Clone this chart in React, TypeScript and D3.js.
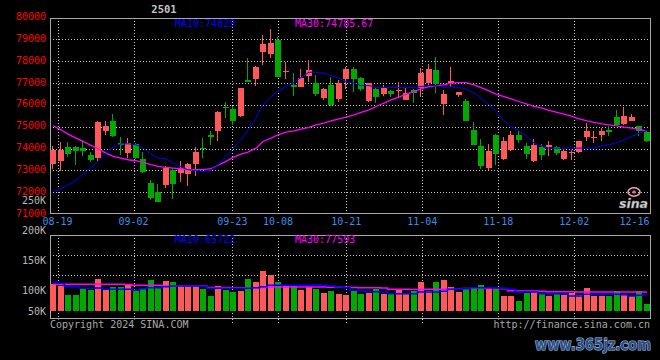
import React from "react";
import * as d3 from "d3";

const dates = [
  "08-16","08-19","08-20","08-21","08-22","08-23","08-26","08-27","08-28","08-29","08-30",
  "09-02","09-03","09-04","09-05","09-06","09-09","09-10","09-11","09-12","09-13","09-18","09-19","09-20","09-23","09-24","09-25","09-26","09-27","09-30",
  "10-08","10-09","10-10","10-11","10-14","10-15","10-16","10-17","10-18","10-21","10-22","10-23","10-24","10-25","10-28","10-29","10-30","10-31",
  "11-01","11-04","11-05","11-06","11-07","11-08","11-11","11-12","11-13","11-14","11-15","11-18","11-19","11-20","11-21","11-22","11-25","11-26","11-27","11-28","11-29",
  "12-02","12-03","12-04","12-05","12-06","12-09","12-10","12-11","12-12","12-13","12-16",
];

const opens = [
  73308,73414,74084,74084,74038,73719,73566,74815,75271,74267,
  73810,74221,73536,72440,72014,72318,73034,72882,72851,73308,
  74038,74632,74784,75910,75804,75469,77143,77189,78422,78330,
  78970,77493,76915,76839,77326,76991,76321,76915,76291,77189,
  77645,77250,76184,76732,76504,76641,76656,76230,76671,76763,
  76991,77600,76047,77021,76458,76184,74860,74130,73110,74632,
  73536,73947,74601,74099,73414,74069,74053,74053,73536,73779,
  73840,74510,74495,74632,74860,75454,75134,75241,75012,74754,
];
const highs = [
  74130,74282,74312,74100,74404,73825,75241,75271,75591,74540,
  74495,74267,73856,72577,72394,73186,73110,73414,73338,74053,
  74480,74784,75700,76123,75926,76780,78132,77770,79198,79472,
  79122,77980,77448,77645,78056,77371,76760,77295,77143,77752,
  77752,77295,77021,76793,76915,76671,77037,76793,76732,77706,
  77874,78193,76687,77737,76595,76260,75210,74434,74206,74662,
  74525,74784,74784,74251,74449,74206,74358,74130,73993,73947,
  74370,75165,74784,74937,75012,75773,75880,75591,75020,74860,
];
const lows = [
  73079,72958,73612,73232,73643,73369,73445,74632,74540,73719,
  73566,73536,72866,71634,71542,72197,71679,72471,72273,72729,
  73566,74175,74327,75393,75088,75450,77050,76884,77828,78132,
  77270,77189,76413,76830,77067,76413,76200,75971,76123,76732,
  76610,76641,76123,76108,76428,76337,76337,76200,76108,76337,
  76884,76565,75515,76839,76337,75241,74160,73079,73034,73262,
  73490,73901,74251,73536,73400,73490,73643,73688,73490,73460,
  73795,74327,74251,74327,74556,75058,75088,75241,74556,74310,
];
const closes = [
  73947,73947,73764,73901,73901,73490,75195,75043,74586,74175,
  74251,73566,72912,71725,71542,73110,72394,73110,73308,73856,
  73977,74540,75682,75849,75271,76763,77067,77752,78787,78833,
  77280,77554,76839,77250,77600,76504,76732,76002,77021,77645,
  77189,76732,76991,76382,76763,76489,76687,76534,76534,77448,
  77645,76945,76504,77098,76580,75271,74175,73186,73901,73764,
  74358,74601,74404,73764,74145,73719,74175,73795,73871,73825,
  74358,74784,74540,74784,74738,75088,75499,75454,74784,74327,
];
const ma10 = [
  72044,72166,72349,72562,72836,73110,73414,73795,74069,74221,
  74221,74175,74023,73749,73566,73536,73338,73156,73034,72988,
  72958,73034,73232,73643,74023,74404,74860,75393,76002,76382,
  76641,76839,77037,77250,77493,77493,77448,77341,77219,77067,
  76991,76884,76884,76793,76793,76793,76793,76808,76793,76839,
  76884,76884,76793,76824,76793,76732,76534,76306,76002,75697,
  75271,75012,74815,74556,74251,74099,74023,74023,74023,74023,
  74023,74023,74023,74130,74175,74282,74404,74556,74708,74829,
];
const ma30 = [
  75043,74860,74663,74480,74327,74145,73993,73795,73643,73566,
  73490,73445,73369,73262,73186,73140,73110,73079,73034,73034,
  73034,73079,73232,73414,73597,73749,73840,74023,74327,74480,
  74632,74754,74815,74891,74967,75088,75165,75271,75362,75439,
  75545,75652,75773,75926,76078,76230,76352,76489,76610,76732,
  76839,76884,76915,76991,77021,77021,76915,76793,76641,76489,
  76382,76276,76154,76032,75926,75849,75743,75652,75576,75469,
  75362,75271,75195,75134,75088,75043,74982,74937,74891,74785.67,
];
const volumes = [
  108600,101800,65100,65100,92300,85500,131600,84100,97700,97700,
  105800,84100,88200,126200,97700,122100,118100,104500,101800,101800,
  90900,61100,101800,84100,77300,80100,131600,118100,162800,146600,
  118100,101800,104500,85500,99100,90900,74600,81400,70600,65100,
  84100,67900,74600,90900,70600,67900,85500,70600,81400,118100,
  81400,118100,126200,97700,77300,90900,95000,105800,95000,88200,
  61100,61100,40700,71900,78700,70600,61100,67900,67900,74600,
  65100,93600,61100,61100,61100,81400,70600,61100,81400,29900,
];
const volMa10 = [
  118100,112600,99100,97700,92300,92300,93600,88200,88200,88200,
  88200,84100,90900,95000,95000,99100,101800,101800,101800,101800,
  99100,92300,92300,92300,92300,92300,92300,95000,99100,104500,
  104500,104500,104500,104500,104500,107200,104500,101800,97700,95000,
  84100,80100,78700,78700,77300,70600,70600,70600,70600,77300,
  77300,77300,80100,88200,88200,90900,95000,95000,95000,93600,
  92300,88200,77300,77300,77300,70600,70600,70600,67900,61100,
  61100,67900,67900,67900,67900,67900,66500,61100,63800,65722,
];
const volMa30 = [
  109000,109000,109000,108500,108500,108500,108500,108500,108500,108500,
  108000,105000,105000,104500,104500,102000,102000,102000,101500,101500,
  101000,96000,95500,95500,95000,95000,95000,95000,96000,97700,
  98000,98000,98000,98000,97700,97500,97500,97000,97000,96500,
  95500,95000,95000,95000,94000,89000,88500,88500,88000,88000,
  88500,89000,89000,89000,89000,92000,92500,92500,92000,91500,
  91000,82000,81500,81000,81000,80500,78500,78500,78000,78000,
  77800,77500,77500,77500,77500,77500,77500,77600,77600,77593,
];
const priceTicks = [80000, 79000, 78000, 77000, 76000, 75000, 74000, 73000, 72000, 71000];
const priceGrid = [79000, 78000, 77000, 76000, 75000, 74000, 73000, 72000];
const volTicks = [250000, 200000, 150000, 100000, 50000];
const volTickLabels = ["250K", "200K", "150K", "100K", "50K"];
const dateTicks = ["08-19", "09-02", "09-23", "10-08", "10-21", "11-04", "11-18", "12-02", "12-16"];

const W = 660;
const H = 360;
const RED = "#ff5858";
const GREEN = "#00a800";
const BLUE = "#0000ff";
const MAG = "#ff00ff";
const GRID = "#c8c8c8";
const FRAME = "#a8a8a8";
const MONO = "'DejaVu Sans Mono', 'Liberation Mono', monospace";

export default function App() {
  const n = dates.length;
  const xBand = d3.scaleBand<number>().domain(d3.range(n)).range([49, 650.3]);
  const gridX = d3.scaleLinear().domain([0, n - 1]).range([50, 650.3]);
  const yPrice = d3.scaleLinear().domain([71000, 80000]).range([214.2, 17.4]);
  const yVol = d3.scaleLinear().domain([0, 309300]).range([311, 235]);
  const yVolLabel = d3.scaleLinear().domain([100000, 250000]).range([290.3, 200.3]);

  const left = (i: number) => Math.round((xBand(i) as number) + 1);
  const cx = (i: number) => left(i) + 3;

  const maLine = d3.line<number>().x((_, i) => cx(i)).y((d) => yPrice(d));
  const volLine = d3.line<number>().x((_, i) => cx(i)).y((d) => yVol(d)).curve(d3.curveStep);

  const tickIdx = dateTicks.map((d) => dates.indexOf(d));

  return (
    <svg width={W} height={H} style={{ position: "absolute", left: 0, top: 0, display: "block" }}>
      <rect x={0} y={0} width={W} height={H} fill="#000" />

      {/* main grid */}
      {priceGrid.map((v) => {
        const y = Math.round(yPrice(v)) + 0.5;
        return <line key={"hg" + v} x1={50} x2={650} y1={y} y2={y} stroke={GRID} strokeDasharray="1,2" />;
      })}
      {tickIdx.map((idx, k) => {
        const x = Math.round(gridX(idx)) + 0.5;
        if (x > 649) return null;
        return (
          <g key={"vg" + k}>
            <line x1={x} x2={x} y1={18} y2={213} stroke={GRID} strokeDasharray="1,2" />
            <line x1={x} x2={x} y1={235} y2={323} stroke={GRID} strokeDasharray="1,2" />
          </g>
        );
      })}
      {[255.5, 275.5].map((y) => (
        <line key={"vh" + y} x1={50} x2={650} y1={y} y2={y} stroke={GRID} strokeDasharray="1,2" />
      ))}

      {/* frames */}
      <rect x={50.5} y={18.5} width={600} height={195} fill="none" stroke={FRAME} />
      <rect x={50.5} y={235.5} width={600} height={83} fill="none" stroke={FRAME} />

      {/* candles */}
      {dates.map((_, i) => {
        const o = opens[i];
        const c = closes[i];
        const up = c >= o;
        const col = up ? RED : GREEN;
        const top = Math.round(yPrice(Math.max(o, c)));
        const bot = Math.round(yPrice(Math.min(o, c)));
        const l = left(i);
        return (
          <g key={"c" + i}>
            <line x1={l + 2.5} x2={l + 2.5} y1={Math.round(yPrice(highs[i]))} y2={Math.round(yPrice(lows[i]))} stroke={col} />
            <rect x={l} y={top} width={6} height={Math.max(1, bot - top)} fill={col} />
          </g>
        );
      })}
      <path d={maLine(ma30) || ""} fill="none" stroke={MAG} strokeWidth={1.3} />
      <path d={maLine(ma10) || ""} fill="none" stroke={BLUE} strokeWidth={1} />

      {/* volume bars */}
      {volumes.map((v, i) => {
        const col = closes[i] >= opens[i] ? RED : GREEN;
        const y = Math.round(yVol(v));
        return <rect key={"v" + i} x={left(i)} y={y} width={6} height={311 - y} fill={col} />;
      })}
      <path d={volLine(volMa30) || ""} fill="none" stroke={MAG} strokeWidth={1.5} />
      <path d={volLine(volMa10) || ""} fill="none" stroke={BLUE} strokeWidth={1.5} />

      {/* price labels */}
      {priceTicks.map((v) => (
        <text key={"pt" + v} x={46} y={yPrice(v) + 2.5} textAnchor="end" fill="#ff0000" fontFamily={MONO} fontSize={10}>
          {v}
        </text>
      ))}
      {/* volume labels */}
      {volTicks.map((v, k) => (
        <text key={"vt" + v} x={46} y={Math.min(yVolLabel(v), 311) + 3.5} textAnchor="end" fill="#b8b8b8" fontFamily={MONO} fontSize={10}>
          {volTickLabels[k]}
        </text>
      ))}
      {/* date labels */}
      {tickIdx.map((idx, k) => (
        <text key={"dt" + k} x={Math.min(gridX(idx), 650 - 15.5)} y={225} textAnchor="middle" fill="#3a8ee8" fontFamily={MONO} fontSize={10}>
          {dateTicks[k]}
        </text>
      ))}

      {/* legends */}
      <text x={164} y={13.3} textAnchor="middle" fill="#c4c4c4" fontFamily={MONO} fontSize={10.5} fontWeight="bold">2501</text>
      <text x={175} y={26.7} fill={BLUE} fontFamily={MONO} fontSize={10}>{`MA10:${ma10[n - 1]}`}</text>
      <text x={295} y={26.7} fill={MAG} fontFamily={MONO} fontSize={10}>{`MA30:${ma30[n - 1]}`}</text>
      <text x={175} y={242.7} fill={BLUE} fontFamily={MONO} fontSize={10}>{`MA10:${volMa10[n - 1]}`}</text>
      <text x={295} y={242.7} fill={MAG} fontFamily={MONO} fontSize={10}>{`MA30:${volMa30[n - 1]}`}</text>

      {/* footer texts */}
      <rect x={49} y={319.5} width={141} height={12} fill="#000" />
      <text x={50} y={327.5} fill="#a8a8a8" fontFamily={MONO} fontSize={10}>Copyright 2024 SINA.COM</text>
      <rect x={491} y={319.5} width={161} height={12} fill="#000" />
      <text x={650} y={327.5} textAnchor="end" fill="#a8a8a8" fontFamily={MONO} fontSize={10}>http://finance.sina.com.cn</text>

      {/* sina logo */}
      <ellipse cx={634} cy={192} rx={6} ry={4.2} fill="none" stroke="#e7a3ad" strokeWidth={1.5} />
      <circle cx={634} cy={192} r={1.8} fill="#c86a78" />
      <text x={619} y={207.5} fill="#d8d8d8" stroke="#7a7a7a" strokeWidth={0.4} fontFamily="'DejaVu Sans', sans-serif" fontSize={12.5} fontWeight="bold" fontStyle="italic">sina</text>

      {/* watermark */}
      <text transform="translate(535,350) scale(0.85,1)" x={0} y={0} fill="#2b4f86" stroke="#a8c3e6" strokeWidth={1.2} paintOrder="stroke" fontFamily="'DejaVu Sans', sans-serif" fontSize={15.5} fontWeight="bold">www.365jz.com</text>
    </svg>
  );
}
